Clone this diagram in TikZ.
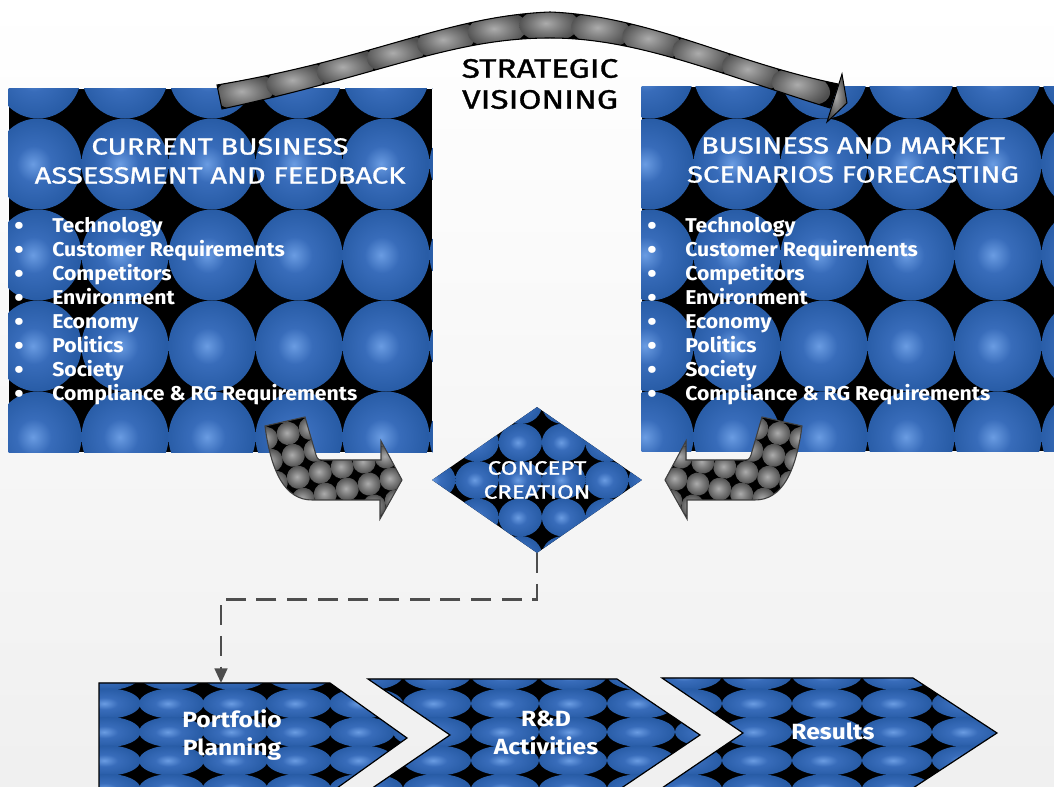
\documentclass[tikz,border=0pt]{standalone}
\usepackage{fontspec}
\setmainfont{Fira Sans}
\newfontfamily\widesans[FakeStretch=1.25, FakeBold=1.2]{Fira Sans}
\newfontfamily\listsans[FakeStretch=1.06]{Fira Sans}
\newfontfamily\chevsans[FakeStretch=1.12]{Fira Sans}
\usetikzlibrary{shapes.geometric, arrows.meta, decorations.markings}

\definecolor{blEdge}{RGB}{40,92,166}
\definecolor{blMid}{RGB}{56,108,186}
\definecolor{blHi}{RGB}{106,156,226}
\definecolor{grEdge}{RGB}{78,78,78}
\definecolor{grMid}{RGB}{122,122,122}
\definecolor{grHi}{RGB}{172,172,172}
\definecolor{dashgray}{RGB}{77,77,77}

% sphere shadings used for the tiled textures
\pgfdeclareradialshading{bluesph}{\pgfpoint{-3bp}{0bp}}{color(0bp)=(blHi); color(10bp)=(blMid); color(25bp)=(blEdge); color(50bp)=(blEdge)}
\pgfdeclareradialshading{graysph}{\pgfpoint{-3bp}{3bp}}{color(0bp)=(grHi); color(13bp)=(grMid); color(25bp)=(grEdge); color(50bp)=(grEdge)}

% grid of shaded balls: shading, x0, dx, last column, y0, dy, last row, rx, ry
\newcommand{\ballgrid}[9]{%
  \foreach \gi in {0,...,#4}{%
    \foreach \gj in {0,...,#7}{%
      \shade[shading=#1] ({#2+\gi*#3},{#5+\gj*#6}) ellipse ({#8} and {#9});
    }%
  }%
}

% larger list bullet
\newcommand{\listbullet}{\makebox[28.5pt][l]{\fontsize{19}{18}\selectfont\raisebox{-1.2pt}{\textbullet}}}

% outline of the bent arrow feeding the concept diamond
\newcommand{\bentpath}{(265,426) -- (305,417) -- (316,455) .. controls (318,460) .. (325,460)
  -- (381,460) -- (381,441) -- (402,480) -- (380,519) -- (380,500) -- (312,500)
  .. controls (285,500) and (271,472) .. (265,426) -- cycle}

% strategic visioning arc: band outline and its centre line
\newcommand{\arcband}{(217,85) .. controls (376,58) and (448,16) .. (550,12)
  .. controls (650,16) and (730,62) .. (838,84) -- (830,108)
  .. controls (714,72) and (636,38) .. (550,38)
  .. controls (452,38) and (384,74) .. (222,109) -- cycle}
\newcommand{\arcline}{(219,97) .. controls (380,66) and (450,27) .. (550,25)
  .. controls (642,27) and (722,67) .. (834,96)}

% chevron outlines
\newcommand{\chevA}{(99,683) -- (330,683) -- (407,738) -- (330,793) -- (99,793) -- cycle}
\newcommand{\chevB}{(368,679) -- (617,679) -- (700,735) -- (617,791) -- (368,791) -- (450,735) -- cycle}
\newcommand{\chevC}{(662,678) -- (913,678) -- (997,733) -- (913,788) -- (662,788) -- (743,733) -- cycle}

\begin{document}
\begin{tikzpicture}[x=0.75pt, y=-0.75pt,
  bigbox/.style={rectangle, fill=black, inner sep=0pt},
  titletext/.style={align=center, text=white, inner sep=0pt,
    font=\widesans\fontsize{17.5}{21.75}\selectfont},
  listitem/.style={anchor=base west, inner sep=0pt, text=white,
    font=\listsans\bfseries\fontsize{15}{18}\selectfont},
  headtext/.style={align=center, text=black, inner sep=0pt,
    font=\widesans\fontsize{20}{23.25}\selectfont},
  chevtext/.style={align=center, text=white, inner sep=0pt,
    font=\chevsans\bfseries\fontsize{16.5}{21}\selectfont},
  chevedge/.style={draw=black, line width=0.9pt},
  bentedge/.style={draw=black!75, line width=0.8pt},
  connector/.style={draw=dashgray, line width=2pt, dash pattern=on 15pt off 8pt,
    -{Triangle[length=11pt, width=9.5pt]}}
]
\useasboundingbox (0,0) rectangle (1054,787);
\shade[top color=white, bottom color=black!6] (0,0) rectangle (1054,787);

% ---------- the two assessment boxes ----------
\node[bigbox, minimum width=317.25pt, minimum height=272.25pt] (leftbox) at (220.5,270.5) {};
\begin{scope}
  \clip (leftbox.north west) rectangle (leftbox.south east);
  \ballgrid{bluesph}{38}{87}{5}{73}{91}{4}{43.5}{45.5}
\end{scope}
\node[bigbox, minimum width=309pt, minimum height=273pt] (rightbox) at (848,269) {};
\begin{scope}
  \clip (rightbox.north west) rectangle (rightbox.south east);
  \ballgrid{bluesph}{650}{87}{5}{73}{91}{4}{43.5}{45.5}
\end{scope}

\node[titletext] (lefttitle) at (220,161) {CURRENT BUSINESS\\ASSESSMENT AND FEEDBACK};
\node[titletext] (righttitle) at (853,160) {BUSINESS AND MARKET\\SCENARIOS FORECASTING};

\foreach \t [count=\i] in {Technology, Customer Requirements, Competitors, Environment,
    Economy, Politics, Society, Compliance \& RG Requirements} {
  \node[listitem] (la\i) at (14,209+24*\i) {\listbullet\t};
  \node[listitem] (lb\i) at (647,209+24*\i) {\listbullet\t};
}

% ---------- strategic visioning arc ----------
\begin{scope}
  \clip \arcband;
  \fill[black] (200,0) rectangle (860,130);
  \path[postaction={decorate}, decoration={markings,
    mark=between positions 20pt and -8pt step 39pt with {\shade[shading=graysph] (0,0) ellipse (30 and 17);}}]
    \arcline;
\end{scope}
\draw[black, line width=0.8pt] \arcband;
\shade[shading=graysph, draw=black, line width=0.75pt] (842,74) -- (847,103) -- (827,122) -- cycle;
\node[headtext] (strategic) at (540,84) {STRATEGIC\\VISIONING};

% ---------- bent arrows ----------
\begin{scope}
  \clip \bentpath;
  \fill[black] (250,400) rectangle (420,530);
  \begin{scope}[rotate around={13:(330,470)}]
    \ballgrid{graysph}{230}{22.5}{10}{380}{22.5}{8}{11.5}{11.5}
  \end{scope}
\end{scope}
\draw[bentedge] \bentpath;

\begin{scope}[xshift=800.25pt, xscale=-1]
  \begin{scope}
    \clip \bentpath;
    \fill[black] (250,400) rectangle (420,530);
    \begin{scope}[rotate around={13:(330,470)}]
      \ballgrid{graysph}{230}{22.5}{10}{380}{22.5}{8}{11.5}{11.5}
    \end{scope}
  \end{scope}
  \draw[bentedge] \bentpath;
\end{scope}

% ---------- concept diamond ----------
\node[diamond, aspect=1.44, minimum width=157.5pt, minimum height=109.5pt, inner sep=0pt,
  fill=black, text=white, align=center, font=\widesans\fontsize{14.5}{18}\selectfont,
  path picture={\begin{scope}[shift={(path picture bounding box.center)}]
    \ballgrid{bluesph}{-103.3}{43.3}{5}{-75}{37.5}{4}{21.7}{19}
  \end{scope}}] (concept) at (537,480) {CONCEPT\\CREATION};

% ---------- chevrons ----------
\begin{scope}
  \clip \chevA;
  \fill[black] (90,670) rectangle (420,800);
  \ballgrid{bluesph}{44.5}{63.5}{6}{675}{28.5}{4}{32.5}{15}
\end{scope}
\draw[chevedge] \chevA;
\begin{scope}
  \clip \chevB;
  \fill[black] (360,670) rectangle (710,800);
  \ballgrid{bluesph}{369}{68}{5}{675}{28.5}{4}{34}{15}
\end{scope}
\draw[chevedge] \chevB;
\begin{scope}
  \clip \chevC;
  \fill[black] (650,670) rectangle (1010,800);
  \ballgrid{bluesph}{687}{70}{5}{675}{28.5}{4}{35}{15}
\end{scope}
\draw[chevedge] \chevC;

\node[chevtext] (portfolio) at (232,735) {Portfolio\\Planning};
\node[chevtext] (rnd) at (546,733) {R\&D\\Activities};
\node[chevtext] (results) at (833,731) {Results};

% ---------- dashed hand-off to portfolio planning ----------
\coordinate (pftop) at (221,683);
\draw[connector] (concept.south) -- ++(0,46) -| (pftop);
\end{tikzpicture}
\end{document}
